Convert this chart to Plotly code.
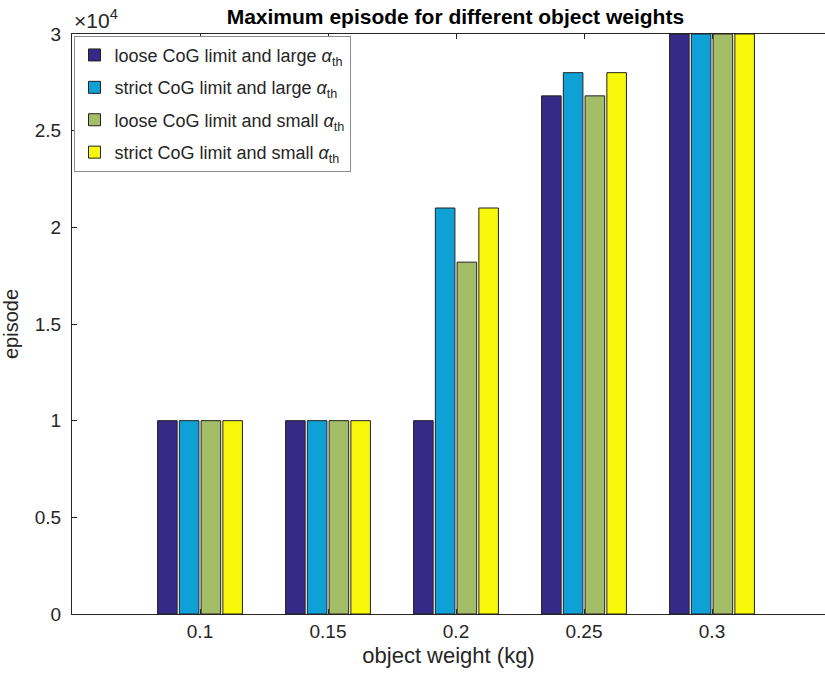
import plotly.graph_objects as go

weights = [0.1, 0.15, 0.2, 0.25, 0.3]
tick_labels = ["0.1", "0.15", "0.2", "0.25", "0.3"]

loose_large = [10000, 10000, 10000, 26800, 30000]
strict_large = [10000, 10000, 21000, 28000, 30000]
loose_small = [10000, 10000, 18200, 26800, 30000]
strict_small = [10000, 10000, 21000, 28000, 30000]

series_names = [
    "loose CoG limit and large <i>α</i><sub>th</sub>",
    "strict CoG limit and large <i>α</i><sub>th</sub>",
    "loose CoG limit and small <i>α</i><sub>th</sub>",
    "strict CoG limit and small <i>α</i><sub>th</sub>",
]
series_values = [loose_large, strict_large, loose_small, strict_small]
series_colors = ["#352A87", "#0FA0D6", "#A5BC68", "#F8F80A"]

y_ticks = [0, 5000, 10000, 15000, 20000, 25000, 30000]
y_tick_labels = ["0", "0.5", "1", "1.5", "2", "2.5", "3"]

fig = go.Figure()
for i, (name, vals, col) in enumerate(zip(series_names, series_values, series_colors)):
    fig.add_trace(go.Bar(
        x=weights, y=vals, name=name, legendgroup=f"g{i}",
        marker=dict(color=col, line=dict(color="#222222", width=1)),
    ))

W, H = 825, 679
left, top, bottom = 72, 34, 65

fig.update_layout(
    width=W, height=H,
    margin=dict(l=left, r=0, t=top, b=bottom, autoexpand=False),
    paper_bgcolor="white", plot_bgcolor="white",
    barmode="group", bargap=0.32, bargroupgap=0.1,
    font=dict(family="Liberation Sans, Arial, sans-serif", color="#262626"),
    title=dict(
        text="<b>Maximum episode for different object weights</b>",
        x=0.552, xanchor="center", y=1 - 17 / H, yanchor="middle",
        font=dict(size=21, color="black"),
    ),
    xaxis=dict(
        range=[0.05, 0.05 + (W - left) / 128 * 0.05],
        tickvals=weights, ticktext=tick_labels,
        ticks="inside", ticklen=5, tickcolor="#262626",
        showline=True, linecolor="#262626", linewidth=1, mirror="ticks",
        showgrid=False, zeroline=False,
        tickfont=dict(size=19),
        title=dict(text="object weight (kg)", font=dict(size=22), standoff=6),
    ),
    yaxis=dict(
        range=[0, 30000],
        tickvals=y_ticks, ticktext=y_tick_labels,
        ticks="inside", ticklen=5, tickcolor="#262626",
        showline=True, linecolor="#262626", linewidth=1,
        showgrid=False, zeroline=False,
        tickfont=dict(size=19), ticklabelstandoff=6,
        title=dict(text="episode", font=dict(size=20), standoff=10),
    ),
    legend=dict(
        x=0.002, y=0.997, xanchor="left", yanchor="top",
        bgcolor="white", bordercolor="#8c8c8c", borderwidth=1,
        font=dict(size=18, color="#262626"),
        itemwidth=30, tracegroupgap=6,
    ),
    annotations=[dict(
        text="×10<sup>4</sup>", xref="paper", yref="paper",
        x=0.0, y=1.0, xanchor="left", yanchor="bottom", yshift=0,
        showarrow=False, font=dict(size=21, color="#262626"),
    )],
)

fig.write_html("out.html")
